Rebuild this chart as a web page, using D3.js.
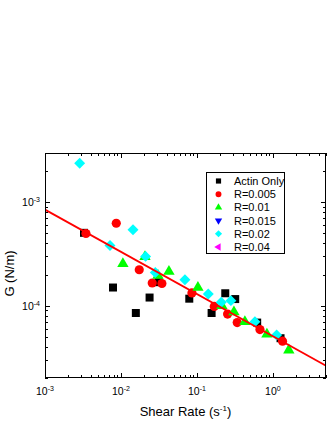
<!DOCTYPE html>
<html><head><meta charset="utf-8">
<script src="https://cdn.jsdelivr.net/npm/d3@7"></script>
<style>body{margin:0;background:#fff}svg{display:block}text{font-family:"Liberation Sans",Arial,sans-serif}</style>
</head><body><svg id="c" width="327" height="423"></svg>
<script>
// ---- data ----
const actinX = [0.00326,0.00785,0.0157,0.0238,0.0313,0.0793,0.156,0.236,0.319,0.621,1.26];
const actinY = [5.07e-4,1.5e-4,8.5e-5,1.2e-4,1.69e-4,1.17e-4,8.5e-5,1.32e-4,1.16e-4,6.87e-5,4.85e-5];
const r005X = [0.00346,0.00867,0.0174,0.0258,0.0346,0.0859,0.169,0.253,0.339,0.675,1.34];
const r005Y = [5.0e-4,6.28e-4,2.23e-4,1.66e-4,1.64e-4,1.33e-4,9.85e-5,8.3e-5,6.87e-5,5.88e-5,4.54e-5];
const r01X = [0.0106,0.0207,0.0307,0.0428,0.103,0.213,0.307,0.428,0.834,1.62];
const r01Y = [2.55e-4,2.98e-4,1.96e-4,2.14e-4,1.5e-4,1.0e-4,8.7e-5,6.99e-5,5.3e-5,3.72e-5];
const r015X = [];
const r015Y = [];
const r02X = [0.00286,0.00717,0.0144,0.0211,0.0283,0.0695,0.141,0.209,0.28,0.58,1.12];
const r02Y = [2.39e-3,3.83e-4,5.42e-4,3.0e-4,2.1e-4,1.78e-4,1.3e-4,1.08e-4,1.12e-4,7.0e-5,5.21e-5];
const r04X = [];
const r04Y = [];
const fitX = [1e-3, 5];
const fitY = [8.5e-4, 2.63e-5];
const seriesNames = ["Actin Only","R=0.005","R=0.01","R=0.015","R=0.02","R=0.04"];
const xTickLabels = ["-3","-2","-1","0"];
const yTickLabels = ["-3","-4"];
const xTitle = "Shear Rate (s", xTitleSup = "-1", xTitleEnd = ")";
const yTitle = "G (N/m)";

// ---- layout ----
const svg = d3.select("#c");
const L=45, R=326, T=153, B=378;
const x = d3.scaleLog().domain([1e-3,5]).range([L,R]);
const y = d3.scaleLog().domain([2e-5,3e-3]).range([B,T]);

const series = [
  {name:seriesNames[0], xs:actinX, ys:actinY, color:"#000000", sym:d3.symbolSquare, size:64, rot:0},
  {name:seriesNames[1], xs:r005X, ys:r005Y, color:"#ff0000", sym:d3.symbolCircle, size:66, rot:0},
  {name:seriesNames[2], xs:r01X, ys:r01Y, color:"#00ff00", sym:d3.symbolTriangle, size:56, rot:0},
  {name:seriesNames[3], xs:r015X, ys:r015Y, color:"#0000ff", sym:d3.symbolTriangle, size:56, rot:180},
  {name:seriesNames[4], xs:r02X, ys:r02Y, color:"#00ffff", sym:d3.symbolSquare, size:60, rot:45},
  {name:seriesNames[5], xs:r04X, ys:r04Y, color:"#ff00ff", sym:d3.symbolTriangle, size:56, rot:-90},
];

// points
series.forEach(s=>{
  const pts = s.xs.map((v,i)=>[v,s.ys[i]]);
  svg.append("g").selectAll("path").data(pts).enter().append("path")
    .attr("d", d3.symbol().type(s.sym).size(s.size))
    .attr("transform", d=>`translate(${x(d[0])},${y(d[1])}) rotate(${s.rot})`)
    .attr("fill", s.color);
});

// fit line
svg.append("clipPath").attr("id","pc").append("rect").attr("x",L).attr("y",T).attr("width",R-L).attr("height",B-T);
svg.append("path").attr("clip-path","url(#pc)")
  .attr("d", d3.line().x(d=>x(d[0])).y(d=>y(d[1]))(fitX.map((v,i)=>[v,fitY[i]])))
  .attr("stroke","#ff0000").attr("stroke-width",1.8).attr("fill","none");

// axes (ticks inward)
function minorX(){const t=[];for(let e=-3;e<=0;e++)for(let m=1;m<=9;m++){const v=m*Math.pow(10,e);if(v>=1e-3&&v<=5)t.push(v);}return t;}
function minorY(){const t=[];for(let e=-5;e<=-3;e++)for(let m=1;m<=9;m++){const v=m*Math.pow(10,e);if(v>=2e-5&&v<=3e-3)t.push(v);}return t;}
const isMajor = v => Math.abs(Math.log10(v)-Math.round(Math.log10(v)))<1e-9;
const ax = svg.append("g").attr("stroke","#000").attr("stroke-width",1);
minorX().forEach(v=>{
  const len = isMajor(v)?5:3, px=Math.round(x(v))+0.5;
  ax.append("line").attr("x1",px).attr("x2",px).attr("y1",B).attr("y2",B-len);
  ax.append("line").attr("x1",px).attr("x2",px).attr("y1",T).attr("y2",T+len);
});
minorY().forEach(v=>{
  const len = isMajor(v)?5:3, py=Math.round(y(v))+0.5;
  ax.append("line").attr("x1",L).attr("x2",L+len).attr("y1",py).attr("y2",py);
  ax.append("line").attr("x1",R).attr("x2",R-len).attr("y1",py).attr("y2",py);
});
svg.append("rect").attr("x",L+0.5).attr("y",T+0.5).attr("width",R-L-1).attr("height",B-T-1)
  .attr("fill","none").attr("stroke","#000").attr("stroke-width",1);

// tick labels
xTickLabels.forEach(e=>{
  const t = svg.append("text").attr("x",x(Math.pow(10,+e))).attr("y",395).attr("text-anchor","middle").attr("font-size",10.5);
  t.append("tspan").text("10");
  t.append("tspan").attr("dy",-4).attr("font-size",7).text(e);
});
yTickLabels.forEach(e=>{
  const t = svg.append("text").attr("x",40).attr("y",y(Math.pow(10,+e))+4).attr("text-anchor","end").attr("font-size",10.5);
  t.append("tspan").text("10");
  t.append("tspan").attr("dy",-4).attr("font-size",7).text(e);
});

// axis titles
const xt = svg.append("text").attr("x",(L+R)/2).attr("y",416).attr("text-anchor","middle").attr("font-size",13);
xt.append("tspan").text(xTitle);
xt.append("tspan").attr("dy",-5).attr("font-size",8).text(xTitleSup);
xt.append("tspan").attr("dy",5).text(xTitleEnd);
svg.append("text").attr("transform",`translate(14,${(T+B)/2+8}) rotate(-90)`).attr("text-anchor","middle").attr("font-size",13).text(yTitle);

// legend
const lg = svg.append("g");
lg.append("rect").attr("x",206.5).attr("y",172.5).attr("width",78).attr("height",81).attr("fill","#fff").attr("stroke","#000").attr("stroke-width",1);
series.forEach((s,i)=>{
  const cy = 181+13.2*i;
  lg.append("path").attr("d",d3.symbol().type(s.sym).size(s.size*0.42)).attr("transform",`translate(218.5,${cy}) rotate(${s.rot})`).attr("fill",s.color);
  lg.append("text").attr("x",234).attr("y",cy+4).attr("font-size",11).text(s.name);
});
</script></body></html>
